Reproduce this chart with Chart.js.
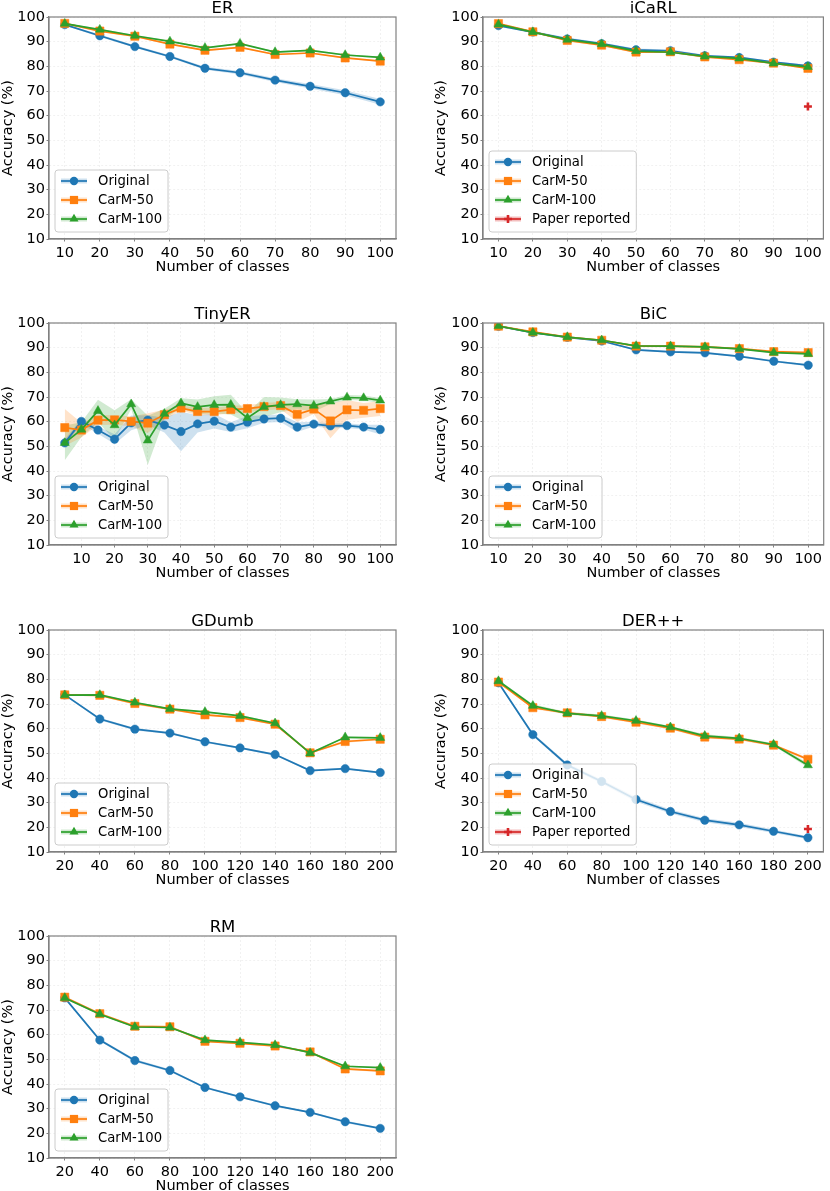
<!DOCTYPE html>
<html>
<head>
<meta charset="utf-8">
<title>Accuracy vs number of classes</title>
<script src="https://cdn.jsdelivr.net/npm/chart.js@4.4.1/dist/chart.umd.min.js"></script>
<style>
  html, body { margin: 0; padding: 0; background: #fff; }
  body { position: relative; width: 830px; height: 1191px; overflow: hidden; }
  .panel { position: absolute; height: 275px; }
  .left { left: 0; width: 415px; }
  .right { left: 433px; width: 397px; }
</style>
</head>
<body>
<div class="panel left" style="top:0"><canvas id="er"></canvas></div>
<div class="panel right" style="top:0"><canvas id="icarl"></canvas></div>
<div class="panel left" style="top:306px"><canvas id="tinyer"></canvas></div>
<div class="panel right" style="top:306px"><canvas id="bic"></canvas></div>
<div class="panel left" style="top:613px"><canvas id="gdumb"></canvas></div>
<div class="panel right" style="top:613px"><canvas id="derpp"></canvas></div>
<div class="panel left" style="top:919px"><canvas id="rm"></canvas></div>
<script>
// number of classes seen (x) and tick labels
const classes100 = [10, 20, 30, 40, 50, 60, 70, 80, 90, 100];
const classesTiny = [5, 10, 15, 20, 25, 30, 35, 40, 45, 50, 55, 60, 65, 70, 75, 80, 85, 90, 95, 100];
const classes200 = [20, 40, 60, 80, 100, 120, 140, 160, 180, 200];
const ticks100 = [10, 20, 30, 40, 50, 60, 70, 80, 90, 100];
const ticks200 = [20, 40, 60, 80, 100, 120, 140, 160, 180, 200];
const accTicks = [10, 20, 30, 40, 50, 60, 70, 80, 90, 100];

const seriesNames = ['Original', 'CarM-50', 'CarM-100'];
const paperName = 'Paper reported';

// ER
const erOriginal = [96.9, 92.4, 88.0, 84.0, 79.2, 77.4, 74.4, 71.9, 69.3, 65.6];
const erCarM50 = [97.4, 94.3, 92.2, 89.0, 86.5, 87.7, 84.8, 85.4, 83.4, 82.1];
const erCarM100 = [97.3, 94.9, 92.4, 90.1, 87.5, 89.2, 85.8, 86.5, 84.6, 83.6];
const erOriginalStd = [0.3, 0.5, 0.5, 0.5, 0.6, 0.7, 0.8, 0.9, 1.0, 1.2];
const erCarM50Std = [0.3, 0.3, 0.3, 0.3, 0.4, 0.3, 0.3, 0.3, 0.3, 0.3];
const erCarM100Std = [0.3, 0.3, 0.3, 0.3, 0.3, 0.3, 0.3, 0.3, 0.3, 0.3];

// iCaRL
const icarlOriginal = [96.5, 93.9, 91.1, 89.2, 86.7, 86.3, 84.3, 83.6, 81.7, 80.2];
const icarlCarM50 = [97.3, 94.0, 90.5, 88.6, 85.8, 85.9, 83.8, 82.7, 81.3, 79.2];
const icarlCarM100 = [97.0, 93.9, 90.8, 89.0, 86.2, 85.7, 84.0, 83.2, 81.2, 79.8];
const icarlOriginalStd = [0.5, 0.4, 0.6, 0.5, 0.5, 0.5, 0.4, 0.4, 0.4, 0.4];
const icarlCarM50Std = [0.4, 0.4, 0.4, 0.4, 0.4, 0.4, 0.4, 0.4, 0.4, 0.4];
const icarlCarM100Std = [0.4, 0.4, 0.4, 0.4, 0.4, 0.4, 0.4, 0.4, 0.4, 0.4];
const icarlPaper = [63.7];

// TinyER
const tinyOriginal = [51.4, 60.1, 56.6, 52.9, 59.5, 60.6, 58.6, 56.0, 59.1, 60.2, 57.8, 59.8, 61.1, 61.4, 57.8, 59.0, 58.3, 58.4, 57.8, 56.8];
const tinyCarM50 = [57.6, 56.6, 60.6, 60.7, 60.1, 59.4, 62.8, 65.5, 64.1, 64.1, 64.9, 65.3, 66.1, 66.5, 63.0, 65.1, 60.3, 64.8, 64.6, 65.3];
const tinyCarM100 = [51.4, 56.8, 64.4, 58.6, 67.1, 52.4, 63.2, 67.5, 66.0, 66.8, 66.9, 61.5, 66.0, 66.8, 67.1, 66.5, 68.2, 69.8, 69.6, 68.6];
const tinyOriginalStd = [1.5, 1.0, 1.5, 2.0, 3.0, 2.0, 3.0, 8.0, 3.5, 3.0, 2.0, 2.5, 1.5, 1.5, 2.0, 1.0, 1.0, 1.0, 1.0, 2.0];
const tinyCarM50Std = [7.5, 3.0, 2.0, 2.0, 2.0, 4.0, 2.0, 1.0, 1.5, 1.5, 1.5, 1.5, 1.5, 1.5, 3.0, 2.0, 7.0, 4.0, 3.0, 3.0];
const tinyCarM100Std = [7.0, 3.0, 4.5, 6.0, 2.0, 10.0, 2.0, 2.0, 3.0, 3.5, 4.0, 2.0, 4.0, 3.0, 2.0, 2.5, 1.0, 1.0, 1.0, 1.0];

// BiC
const bicOriginal = [98.7, 96.1, 94.2, 92.7, 89.1, 88.3, 87.9, 86.5, 84.5, 82.9];
const bicCarM50 = [98.7, 96.4, 94.3, 93.0, 90.6, 90.6, 90.3, 89.6, 88.4, 88.0];
const bicCarM100 = [98.8, 96.1, 94.3, 93.0, 90.7, 90.6, 90.3, 89.5, 88.0, 87.5];
const bicOriginalStd = [0.3, 0.3, 0.3, 0.3, 0.4, 0.4, 0.4, 0.4, 0.4, 0.4];
const bicCarM50Std = [0.3, 0.3, 0.3, 0.3, 0.4, 0.4, 0.4, 0.4, 0.5, 0.5];
const bicCarM100Std = [0.3, 0.3, 0.3, 0.3, 0.3, 0.3, 0.3, 0.3, 0.3, 0.3];

// GDumb
const gdumbOriginal = [73.7, 63.9, 59.8, 58.2, 54.7, 52.2, 49.5, 43.0, 43.8, 42.2];
const gdumbCarM50 = [73.7, 73.5, 70.2, 67.9, 65.6, 64.5, 61.8, 50.2, 54.8, 55.7];
const gdumbCarM100 = [73.6, 73.7, 70.6, 68.0, 66.8, 65.2, 62.2, 50.0, 56.5, 56.3];
const gdumbOriginalStd = [0.4, 0.5, 0.5, 0.4, 0.4, 0.4, 0.4, 0.4, 0.4, 0.4];
const gdumbCarM50Std = [0.4, 0.4, 0.5, 0.4, 0.4, 0.4, 0.4, 0.4, 0.5, 0.4];
const gdumbCarM100Std = [0.3, 0.3, 0.3, 0.3, 0.3, 0.3, 0.3, 0.3, 0.3, 0.3];

// DER++
const derOriginal = [78.6, 57.6, 45.3, 38.6, 31.3, 26.4, 22.9, 21.0, 18.4, 15.8];
const derCarM50 = [78.9, 68.5, 66.4, 64.9, 62.6, 60.2, 56.6, 55.8, 53.3, 47.6];
const derCarM100 = [79.3, 69.3, 66.2, 65.2, 63.2, 60.6, 57.1, 56.1, 53.6, 45.2];
const derOriginalStd = [0.5, 0.6, 0.7, 0.8, 0.9, 0.8, 0.8, 0.9, 0.7, 0.6];
const derCarM50Std = [0.5, 0.5, 0.6, 0.5, 0.5, 0.5, 0.6, 0.5, 0.5, 0.6];
const derCarM100Std = [0.5, 0.6, 0.6, 0.5, 0.5, 0.5, 0.6, 0.5, 0.5, 0.9];
const derPaper = [19.3];

// RM
const rmOriginal = [74.9, 57.8, 49.5, 45.5, 38.6, 34.8, 31.2, 28.5, 24.7, 22.0];
const rmCarM50 = [75.2, 68.5, 63.4, 63.2, 57.3, 56.5, 55.4, 53.0, 46.1, 45.3];
const rmCarM100 = [74.9, 68.3, 63.1, 62.9, 57.8, 56.9, 55.8, 52.7, 47.2, 46.6];
const rmOriginalStd = [0.4, 0.5, 0.6, 0.5, 0.4, 0.4, 0.4, 0.4, 0.5, 0.4];
const rmCarM50Std = [0.4, 0.4, 0.4, 0.4, 0.4, 0.4, 0.4, 0.4, 0.4, 0.4];
const rmCarM100Std = [0.3, 0.3, 0.3, 0.3, 0.3, 0.3, 0.3, 0.3, 0.3, 0.3];

const COLORS = ['#1f77b4', '#ff7f0e', '#2ca02c'];
const BANDS = ['rgba(31,119,180,0.22)', 'rgba(255,127,14,0.22)', 'rgba(44,160,44,0.22)'];
const MARKERS = [{ style: 'circle', r: 4.2 }, { style: 'rect', r: 5.8 }, { style: 'triangle', r: 5.2 }];
const PAPER_COLOR = '#d62728';
const FONT = 'DejaVu Sans';
const SPINE = '#808080';

function drawMarker(ctx, style, r, x, y, color) {
    ctx.fillStyle = color;
    ctx.strokeStyle = color;
    ctx.beginPath();
    if (style === 'circle') {
        ctx.arc(x, y, r, 0, Math.PI * 2);
        ctx.fill();
    } else if (style === 'rect') {
        const a = r * Math.SQRT1_2;
        ctx.rect(x - a, y - a, 2 * a, 2 * a);
        ctx.fill();
    } else if (style === 'triangle') {
        for (let k = 0; k < 3; k++) {
            const ang = k * 2 * Math.PI / 3;
            const px = x + Math.sin(ang) * r, py = y - Math.cos(ang) * r;
            if (k === 0) ctx.moveTo(px, py); else ctx.lineTo(px, py);
        }
        ctx.closePath();
        ctx.fill();
    } else if (style === 'cross') {
        ctx.lineWidth = 2.6;
        ctx.moveTo(x, y - r); ctx.lineTo(x, y + r);
        ctx.moveTo(x - r, y); ctx.lineTo(x + r, y);
        ctx.stroke();
    }
}

// box around the plot area (all four spines)
const framePlugin = {
    id: 'frame',
    afterDatasetsDraw(chart) {
        const a = chart.chartArea, ctx = chart.ctx;
        ctx.save();
        ctx.strokeStyle = SPINE;
        ctx.lineWidth = 1.2;
        ctx.strokeRect(a.left, a.top, a.right - a.left, a.bottom - a.top);
        ctx.restore();
    }
};

// matplotlib-like legend in the lower left corner of the plot area
const insideLegend = {
    id: 'insideLegend',
    afterDraw(chart) {
        const items = chart.data.datasets.filter(d => d.inLegend);
        const ctx = chart.ctx, a = chart.chartArea;
        ctx.save();
        ctx.font = '13.2px "' + FONT + '"';
        const textW = Math.max(...items.map(d => ctx.measureText(d.label).width));
        const w = 43 + textW + 6, h = 19 * items.length + 5;
        const x0 = a.left + 6, y0 = a.bottom - 7 - h;
        ctx.beginPath();
        ctx.roundRect(x0, y0, w, h, 3);
        ctx.fillStyle = 'rgba(255,255,255,0.8)';
        ctx.fill();
        ctx.strokeStyle = '#cccccc';
        ctx.lineWidth = 1;
        ctx.stroke();
        items.forEach((d, i) => {
            const y = y0 + 11 + 19 * i;
            ctx.lineCap = 'butt';
            ctx.strokeStyle = d.legendBand;
            ctx.lineWidth = 5;
            ctx.beginPath(); ctx.moveTo(x0 + 6, y); ctx.lineTo(x0 + 32, y); ctx.stroke();
            ctx.strokeStyle = d.legendColor;
            ctx.lineWidth = 1.7;
            ctx.beginPath(); ctx.moveTo(x0 + 6, y); ctx.lineTo(x0 + 32, y); ctx.stroke();
            drawMarker(ctx, d.pointStyle, d.pointRadius, x0 + 19, y, d.legendColor);
            ctx.fillStyle = '#000';
            ctx.textBaseline = 'middle';
            ctx.textAlign = 'left';
            ctx.fillText(d.label, x0 + 43, y + 0.5);
        });
        ctx.restore();
    }
};

function pts(xs, ys) {
    return xs.map((x, i) => ({ x: x, y: ys[i] }));
}

function makePanel(canvasId, cfg) {
    const datasets = [];
    // shaded bands (mean +/- std)
    cfg.series.forEach((vals, s) => {
        const std = cfg.std[s];
        datasets.push({
            data: cfg.x.map((x, i) => ({ x: x, y: vals[i] + std[i] })),
            borderColor: 'transparent', pointRadius: 0, fill: false, order: 20
        });
        datasets.push({
            data: cfg.x.map((x, i) => ({ x: x, y: vals[i] - std[i] })),
            borderColor: 'transparent', backgroundColor: BANDS[s],
            pointRadius: 0, fill: '-1', order: 20
        });
    });
    cfg.series.forEach((vals, s) => {
        datasets.push({
            label: seriesNames[s],
            data: pts(cfg.x, vals),
            borderColor: COLORS[s],
            backgroundColor: COLORS[s],
            borderWidth: 1.7,
            pointStyle: MARKERS[s].style,
            pointRadius: MARKERS[s].r,
            pointBackgroundColor: COLORS[s],
            pointBorderColor: COLORS[s],
            pointBorderWidth: 0.5,
            tension: 0,
            fill: false,
            order: 3 - s,
            inLegend: true,
            legendColor: COLORS[s],
            legendBand: BANDS[s]
        });
    });
    if (cfg.paper) {
        datasets.push({
            label: paperName,
            data: pts(cfg.paperX, cfg.paper),
            showLine: false,
            borderColor: PAPER_COLOR,
            pointStyle: 'cross',
            pointRadius: 4,
            pointBorderWidth: 2.6,
            pointBorderColor: PAPER_COLOR,
            order: 0,
            inLegend: true,
            legendColor: PAPER_COLOR,
            legendBand: 'rgba(214,39,40,0.3)'
        });
    }

    const tickFont = { family: FONT, size: 14.5 };
    new Chart(document.getElementById(canvasId), {
        type: 'line',
        data: { datasets: datasets },
        options: {
            responsive: true,
            maintainAspectRatio: false,
            animation: false,
            events: [],
            layout: { padding: { left: 0, right: cfg.padRight, top: 0, bottom: 0 } },
            plugins: {
                legend: { display: false },
                tooltip: { enabled: false },
                title: {
                    display: true, text: cfg.title, color: '#000', fullSize: false,
                    padding: 0, font: { family: FONT, size: 16.5, weight: 'normal', lineHeight: 17 / 16.5 }
                }
            },
            scales: {
                x: {
                    type: 'linear', min: cfg.xMin, max: cfg.xMax,
                    afterBuildTicks: sc => { sc.ticks = cfg.xTicks.map(v => ({ value: v })); },
                    afterFit: sc => { sc.height = 36; sc.paddingLeft = 0; sc.paddingRight = 0; },
                    grid: { color: 'rgba(0,0,0,0.07)', lineWidth: 0.8, tickColor: SPINE, tickLength: 2.5, tickWidth: 1 },
                    border: { display: true, color: SPINE, width: 1.2, dash: [2, 2] },
                    ticks: { font: tickFont, color: '#000', padding: 3, maxRotation: 0, autoSkip: false, callback: v => String(v) },
                    title: { display: true, text: 'Number of classes', color: '#000', font: tickFont, padding: { top: 0, bottom: -1 } }
                },
                y: {
                    min: 10, max: 100,
                    afterBuildTicks: sc => { sc.ticks = accTicks.map(v => ({ value: v })); },
                    afterFit: sc => { sc.width = cfg.yWidth; sc.paddingTop = 0; sc.paddingBottom = 0; },
                    grid: { color: 'rgba(0,0,0,0.07)', lineWidth: 0.8, tickColor: SPINE, tickLength: 2.5, tickWidth: 1 },
                    border: { display: true, color: SPINE, width: 1.2, dash: [2, 2] },
                    ticks: { font: tickFont, color: '#000', padding: 1.5, autoSkip: false, callback: v => String(v) },
                    title: { display: true, text: 'Accuracy (%)', color: '#000', font: tickFont, padding: 0 }
                }
            }
        },
        plugins: [framePlugin, insideLegend]
    });
}

const LEFT = { yWidth: 49, padRight: 19 };
const RIGHT = { yWidth: 50, padRight: 1 };

makePanel('er', Object.assign({
    title: 'ER', x: classes100, xTicks: ticks100, xMin: 5.5, xMax: 104.5,
    series: [erOriginal, erCarM50, erCarM100], std: [erOriginalStd, erCarM50Std, erCarM100Std]
}, LEFT));

makePanel('icarl', Object.assign({
    title: 'iCaRL', x: classes100, xTicks: ticks100, xMin: 5.5, xMax: 104.5,
    series: [icarlOriginal, icarlCarM50, icarlCarM100], std: [icarlOriginalStd, icarlCarM50Std, icarlCarM100Std],
    paper: icarlPaper, paperX: [100]
}, RIGHT));

makePanel('tinyer', Object.assign({
    title: 'TinyER', x: classesTiny, xTicks: ticks100, xMin: 0.25, xMax: 104.75,
    series: [tinyOriginal, tinyCarM50, tinyCarM100], std: [tinyOriginalStd, tinyCarM50Std, tinyCarM100Std]
}, LEFT));

makePanel('bic', Object.assign({
    title: 'BiC', x: classes100, xTicks: ticks100, xMin: 5.5, xMax: 104.5,
    series: [bicOriginal, bicCarM50, bicCarM100], std: [bicOriginalStd, bicCarM50Std, bicCarM100Std]
}, RIGHT));

makePanel('gdumb', Object.assign({
    title: 'GDumb', x: classes200, xTicks: ticks200, xMin: 11, xMax: 209,
    series: [gdumbOriginal, gdumbCarM50, gdumbCarM100], std: [gdumbOriginalStd, gdumbCarM50Std, gdumbCarM100Std]
}, LEFT));

makePanel('derpp', Object.assign({
    title: 'DER++', x: classes200, xTicks: ticks200, xMin: 11, xMax: 209,
    series: [derOriginal, derCarM50, derCarM100], std: [derOriginalStd, derCarM50Std, derCarM100Std],
    paper: derPaper, paperX: [200]
}, RIGHT));

makePanel('rm', Object.assign({
    title: 'RM', x: classes200, xTicks: ticks200, xMin: 11, xMax: 209,
    series: [rmOriginal, rmCarM50, rmCarM100], std: [rmOriginalStd, rmCarM50Std, rmCarM100Std]
}, LEFT));
</script>
</body>
</html>
